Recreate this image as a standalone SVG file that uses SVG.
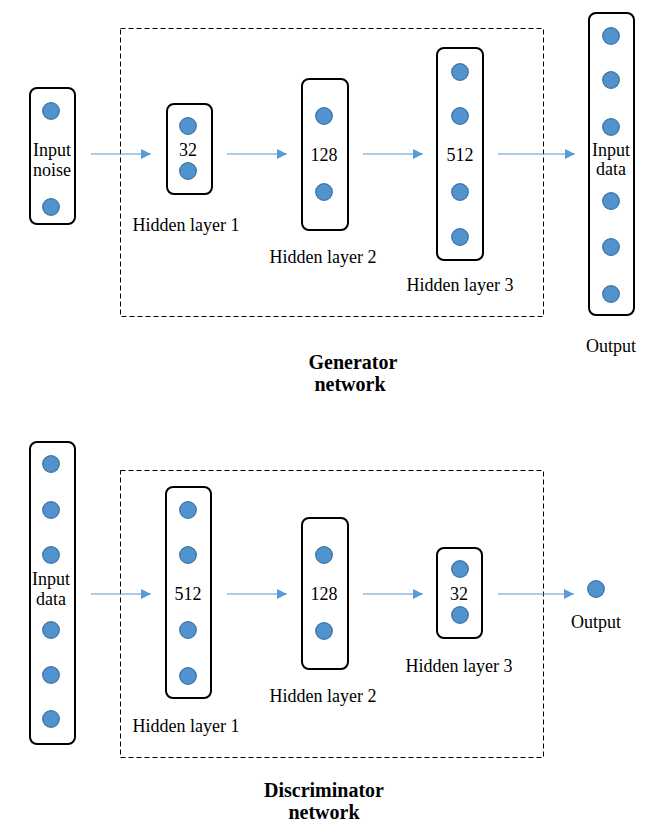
<svg xmlns="http://www.w3.org/2000/svg" width="656" height="837" viewBox="0 0 656 837">
<style>
.box{fill:none;stroke:#000;stroke-width:2}
.dash{fill:none;stroke:#000;stroke-width:1;stroke-dasharray:5,3}
.n{fill:#5093cf;stroke:#3c6f9f;stroke-width:1.2}
.t{font-family:"Liberation Serif","Times New Roman",serif;font-size:18px;fill:#000;text-anchor:middle}
.b{font-family:"Liberation Serif","Times New Roman",serif;font-size:20px;font-weight:bold;fill:#000;text-anchor:middle}
.c{stroke:#5b9bd5;stroke-width:1.2;fill:none;marker-end:url(#ah)}
</style>
<defs>
<marker id="ah" viewBox="0 0 10 10" refX="10" refY="5" markerWidth="10" markerHeight="10" markerUnits="userSpaceOnUse" orient="auto">
<path d="M0,0 L10,5 L0,10 z" fill="#5b9bd5"/>
</marker>
</defs>
<rect fill="#fff" width="656" height="837"/>

<!-- Generator -->
<rect id="gen-frame" class="dash" x="120.5" y="28.5" width="423" height="288"/>
<g id="gen-input">
<rect class="box" x="30" y="88" width="45" height="136" rx="7"/>
<circle class="n" cx="51" cy="111" r="8.3"/>
<circle class="n" cx="51" cy="207" r="8.3"/>
<text class="t" x="52" y="156">Input</text>
<text class="t" x="52" y="176">noise</text>
</g>
<g id="gen-h1">
<rect class="box" x="167" y="104" width="45" height="90" rx="7"/>
<circle class="n" cx="188" cy="126" r="8.3"/>
<circle class="n" cx="188" cy="171" r="8.3"/>
<text class="t" x="188" y="156">32</text>
<text class="t" x="186" y="231">Hidden layer 1</text>
</g>
<g id="gen-h2">
<rect class="box" x="302" y="79" width="46" height="151" rx="7"/>
<circle class="n" cx="324" cy="116" r="8.3"/>
<circle class="n" cx="324" cy="192" r="8.3"/>
<text class="t" x="324" y="161">128</text>
<text class="t" x="323" y="263">Hidden layer 2</text>
</g>
<g id="gen-h3">
<rect class="box" x="437" y="48" width="46" height="212" rx="7"/>
<circle class="n" cx="460" cy="72" r="8.3"/>
<circle class="n" cx="460" cy="116" r="8.3"/>
<circle class="n" cx="460" cy="192" r="8.3"/>
<circle class="n" cx="460" cy="237" r="8.3"/>
<text class="t" x="460" y="161">512</text>
<text class="t" x="460" y="291">Hidden layer 3</text>
</g>
<g id="gen-output">
<rect class="box" x="589" y="13" width="45" height="302" rx="7"/>
<circle class="n" cx="611" cy="36" r="8.3"/>
<circle class="n" cx="611" cy="80" r="8.3"/>
<circle class="n" cx="611" cy="127" r="8.3"/>
<circle class="n" cx="611" cy="201" r="8.3"/>
<circle class="n" cx="611" cy="247" r="8.3"/>
<circle class="n" cx="611" cy="294" r="8.3"/>
<text class="t" x="611" y="156">Input</text>
<text class="t" x="611" y="175">data</text>
<text class="t" x="611" y="352">Output</text>
</g>
<g id="gen-title">
<text class="b" x="353" y="369">Generator</text>
<text class="b" x="350" y="391">network</text>
</g>

<!-- Discriminator -->
<rect id="disc-frame" class="dash" x="120.5" y="470.5" width="423" height="287"/>
<g id="disc-input">
<rect class="box" x="30" y="442" width="45" height="302" rx="7"/>
<circle class="n" cx="51" cy="464" r="8.3"/>
<circle class="n" cx="51" cy="510" r="8.3"/>
<circle class="n" cx="51" cy="555" r="8.3"/>
<circle class="n" cx="51" cy="630" r="8.3"/>
<circle class="n" cx="51" cy="675" r="8.3"/>
<circle class="n" cx="51" cy="719" r="8.3"/>
<text class="t" x="51" y="585">Input</text>
<text class="t" x="51" y="605">data</text>
</g>
<g id="disc-h1">
<rect class="box" x="166" y="487" width="45" height="211" rx="7"/>
<circle class="n" cx="188" cy="510" r="8.3"/>
<circle class="n" cx="188" cy="555" r="8.3"/>
<circle class="n" cx="188" cy="630" r="8.3"/>
<circle class="n" cx="188" cy="676" r="8.3"/>
<text class="t" x="188" y="600">512</text>
<text class="t" x="186" y="732">Hidden layer 1</text>
</g>
<g id="disc-h2">
<rect class="box" x="302" y="518" width="46" height="151" rx="7"/>
<circle class="n" cx="324" cy="555" r="8.3"/>
<circle class="n" cx="324" cy="631" r="8.3"/>
<text class="t" x="324" y="600">128</text>
<text class="t" x="323" y="702">Hidden layer 2</text>
</g>
<g id="disc-h3">
<rect class="box" x="437" y="548" width="45" height="90" rx="7"/>
<circle class="n" cx="460" cy="569" r="8.3"/>
<circle class="n" cx="460" cy="615" r="8.3"/>
<text class="t" x="459" y="600">32</text>
<text class="t" x="459" y="672">Hidden layer 3</text>
</g>
<g id="disc-output">
<circle class="n" cx="596" cy="589" r="8.3"/>
<text class="t" x="596" y="628">Output</text>
</g>
<g id="disc-title">
<text class="b" x="324" y="797">Discriminator</text>
<text class="b" x="324" y="819">network</text>
</g>

<g id="connectors">
<line class="c" x1="91" y1="154" x2="151" y2="154"/>
<line class="c" x1="227" y1="154" x2="287" y2="154"/>
<line class="c" x1="363" y1="154" x2="423" y2="154"/>
<line class="c" x1="498" y1="154" x2="575" y2="154"/>
<line class="c" x1="91" y1="594" x2="151" y2="594"/>
<line class="c" x1="227" y1="594" x2="287" y2="594"/>
<line class="c" x1="363" y1="594" x2="423" y2="594"/>
<line class="c" x1="498" y1="594" x2="574" y2="594"/>
</g>
</svg>
